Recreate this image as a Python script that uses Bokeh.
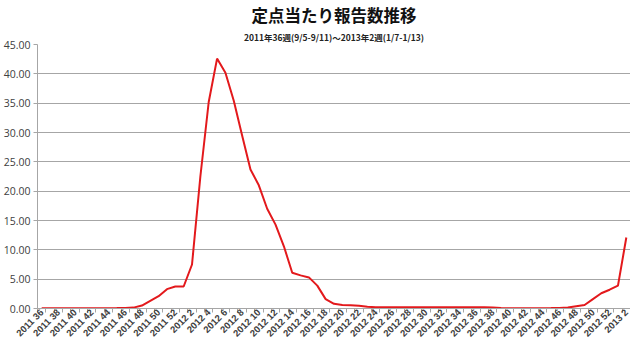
from bokeh.plotting import figure
from bokeh.models import FixedTicker, Title, Range1d
from bokeh.embed import file_html
from bokeh.resources import INLINE

weeks = ([f"2011 {w}" for w in range(36, 53)] +
         [f"2012 {w}" for w in range(1, 53)] +
         [f"2013 {w}" for w in range(1, 3)])

values = [0.05, 0.04, 0.04, 0.04, 0.04, 0.04, 0.05, 0.05, 0.06, 0.07,
          0.10, 0.15, 0.5, 1.3, 2.1, 3.3, 3.75, 3.75, 7.5, 22.5,
          35.2, 42.6, 40.2, 35.4, 29.5, 23.7, 21.0, 17.0, 14.3, 10.6,
          6.1, 5.65, 5.3, 3.9, 1.6, 0.8, 0.6, 0.55, 0.45, 0.3,
          0.2, 0.2, 0.2, 0.2, 0.2, 0.2, 0.2, 0.2, 0.2, 0.2,
          0.2, 0.2, 0.2, 0.2, 0.18, 0.08, 0.06, 0.06, 0.06, 0.06,
          0.06, 0.07, 0.1, 0.18, 0.4, 0.6, 1.6, 2.6, 3.2, 3.9,
          12.1]

y_ticks = [0, 5, 10, 15, 20, 25, 30, 35, 40, 45]

title_text = "定点当たり報告数推移"
subtitle_text = "2011年36週(9/5-9/11)〜2013年2週(1/7-1/13)"

xs = list(range(len(weeks)))
even = xs[::2]

p = figure(width=630, height=345, output_backend="svg", toolbar_location=None,
           x_range=Range1d(-0.5, len(weeks) - 0.5), y_range=Range1d(0, 45),
           min_border_left=31, min_border_right=0, min_border_top=0,
           min_border_bottom=0)

p.add_layout(Title(text=subtitle_text, align="center", text_font_size="8.5px",
                   text_font="Noto Sans CJK JP", text_font_style="bold",
                   text_color="#222222", standoff=4, offset=-9), "above")
p.add_layout(Title(text=title_text, align="center", text_font_size="16.5px",
                   text_font="Noto Sans CJK JP", text_font_style="bold",
                   text_color="#111111", standoff=0, offset=-3), "above")

p.line(xs, values, line_color="#e3191c", line_width=2)

p.outline_line_color = None
p.xgrid.grid_line_color = None
p.ygrid.grid_line_color = "#a6a6a6"
p.ygrid.grid_line_width = 1
p.ygrid.ticker = FixedTicker(ticks=y_ticks)

p.yaxis.ticker = FixedTicker(ticks=y_ticks)
p.yaxis.major_label_overrides = {t: f"{t:.2f}" for t in y_ticks}
p.yaxis.axis_line_color = "#a6a6a6"
p.yaxis.major_tick_line_color = "#a6a6a6"
p.yaxis.major_tick_out = 4
p.yaxis.major_tick_in = 0
p.yaxis.minor_tick_line_color = None
p.yaxis.major_label_text_font = "Open Sans"
p.yaxis.major_label_text_font_size = "10.5px"
p.yaxis.major_label_text_color = "#404040"
p.yaxis.major_label_standoff = 3

p.xaxis.ticker = FixedTicker(ticks=even, minor_ticks=[i - 0.5 for i in range(len(weeks) + 1)])
p.xaxis.major_label_overrides = {i: weeks[i] for i in even}
p.xaxis.axis_line_color = "#a6a6a6"
p.xaxis.major_tick_line_color = None
p.xaxis.minor_tick_line_color = "#a6a6a6"
p.xaxis.minor_tick_out = 4
p.xaxis.minor_tick_in = 0
p.xaxis.major_label_orientation = 0.785
p.xaxis.major_label_text_font = "Liberation Sans"
p.xaxis.major_label_text_font_size = "9.5px"
p.xaxis.major_label_text_font_style = "bold"
p.xaxis.major_label_text_color = "#404040"
p.xaxis.major_label_standoff = -4

open("out.html", "w").write(file_html(p, INLINE))
